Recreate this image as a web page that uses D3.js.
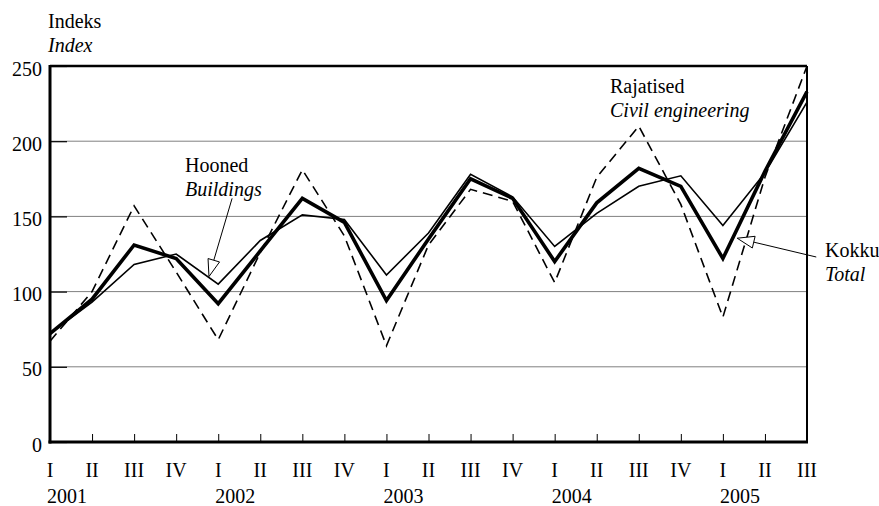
<!DOCTYPE html>
<html>
<head>
<meta charset="utf-8">
<script src="https://cdn.jsdelivr.net/npm/d3@7/dist/d3.min.js"></script>
<style>
  body { margin: 0; background: #fff; }
  svg { display: block; }
  svg text { font-family: "Liberation Serif", "Times New Roman", serif; font-size: 20px; fill: #000; }
</style>
</head>
<body>
<svg id="chart" width="879" height="506"></svg>
<script>
const quarters = ["I","II","III","IV","I","II","III","IV","I","II","III","IV","I","II","III","IV","I","II","III"];
const years = ["2001","","","","2002","","","","2003","","","","2004","","","","2005","",""];
const total     = [72, 95, 131, 122, 92, 127, 162, 146, 94, 135, 175, 162, 120, 159, 182, 170, 122, 180, 233];
const buildings = [72, 93, 118, 125, 105, 134, 151, 148, 111, 139, 178, 163, 130, 152, 170, 177, 144, 179, 226];
const civil     = [67, 100, 157, 113, 68, 126, 181, 137, 64, 131, 168, 160, 106, 176, 210, 158, 83, 176, 250];
const yTicks = [0, 50, 100, 150, 200, 250];

(function () {
const FONT = "'Liberation Serif', 'Times New Roman', serif";
const svg = d3.select("#chart").attr("font-family", FONT);
const pl = 50, pr = 807, pt = 66, pb = 442;
const x = d3.scaleLinear().domain([0, quarters.length - 1]).range([pl, pr]);
const y = d3.scaleLinear().domain([0, 250]).range([pb, pt]);

// gridlines
svg.append("g").selectAll("line").data(yTicks.filter(d => d > 0 && d < 250)).join("line")
  .attr("x1", pl).attr("x2", pr).attr("y1", d => y(d)).attr("y2", d => y(d))
  .attr("stroke", "#808080").attr("stroke-width", 1);

// y axis with inward ticks
const yAxis = d3.axisLeft(y).tickValues(yTicks).tickSize(-17);
const gy = svg.append("g").attr("transform", `translate(${pl},0)`).call(yAxis)
  .attr("font-family", FONT).attr("font-size", 20);
gy.select(".domain").remove();
gy.selectAll(".tick line").attr("stroke", "#000").attr("stroke-width", 1.2);
gy.selectAll(".tick text").attr("x", -8).attr("text-anchor", "end").attr("dy", "0.45em");

// x axis with inward ticks
const xAxis = d3.axisBottom(x).tickValues(d3.range(1, quarters.length - 1)).tickSize(-8).tickFormat("");
const gx = svg.append("g").attr("transform", `translate(0,${pb})`).call(xAxis);
gx.select(".domain").remove();
gx.selectAll(".tick line").attr("stroke", "#000").attr("stroke-width", 1);

// x labels
svg.append("g").selectAll("text").data(quarters).join("text")
  .attr("x", (d, i) => x(i)).attr("y", 477).attr("text-anchor", "middle").text(d => d);
svg.append("g").selectAll("text").data(years).join("text")
  .attr("x", (d, i) => x(i) - 3).attr("y", 503).attr("text-anchor", "start").text(d => d);

// frame
svg.append("line").attr("x1", pl).attr("x2", pr).attr("y1", pt).attr("y2", pt).attr("stroke", "#000").attr("stroke-width", 2.5);
svg.append("line").attr("x1", pr).attr("x2", pr).attr("y1", pt).attr("y2", pb).attr("stroke", "#000").attr("stroke-width", 2);
svg.append("line").attr("x1", pl).attr("x2", pl).attr("y1", pt - 1).attr("y2", pb + 1.5).attr("stroke", "#000").attr("stroke-width", 3);
svg.append("line").attr("x1", pl - 1.5).attr("x2", pr + 1).attr("y1", pb).attr("y2", pb).attr("stroke", "#000").attr("stroke-width", 3);

// lines
const line = d3.line().x((d, i) => x(i)).y(d => y(d));
svg.append("path").datum(civil).attr("d", line).attr("fill", "none").attr("stroke", "#000")
  .attr("stroke-width", 1.6).attr("stroke-dasharray", "10,6");
svg.append("path").datum(buildings).attr("d", line).attr("fill", "none").attr("stroke", "#000")
  .attr("stroke-width", 1.6);
svg.append("path").datum(total).attr("d", line).attr("fill", "none").attr("stroke", "#000")
  .attr("stroke-width", 3.6).attr("stroke-linejoin", "miter");

// arrows (anchored in data coordinates)
function arrow(fromI, fromV, toI, toV) {
  const x0 = x(fromI), y0 = y(fromV), x1 = x(toI), y1 = y(toV);
  const dx = x0 - x1, dy = y0 - y1, len = Math.hypot(dx, dy);
  const ux = dx / len, uy = dy / len, hl = 17, hw = 6;
  const bx = x1 + ux * hl, by = y1 + uy * hl;
  svg.append("line").attr("x1", x0).attr("y1", y0).attr("x2", bx).attr("y2", by)
    .attr("stroke", "#000").attr("stroke-width", 1);
  svg.append("path")
    .attr("d", `M${x1},${y1}L${bx - uy * hw},${by + ux * hw}L${bx + uy * hw},${by - ux * hw}Z`)
    .attr("fill", "#fff").attr("stroke", "#000").attr("stroke-width", 1);
}
arrow(4.33, 162, 3.78, 110);
arrow(18.22, 123, 16.34, 135.5);

// annotation texts
function label(tx, ty, t1, t2) {
  svg.append("text").attr("x", tx).attr("y", ty).text(t1);
  svg.append("text").attr("x", tx).attr("y", ty + 24).attr("font-style", "italic").text(t2);
}
label(48, 28, "Indeks", "Index");
label(185, 172, "Hooned", "Buildings");
label(610, 93, "Rajatised", "Civil engineering");
label(825, 257, "Kokku", "Total");
})();
</script>
</body>
</html>
